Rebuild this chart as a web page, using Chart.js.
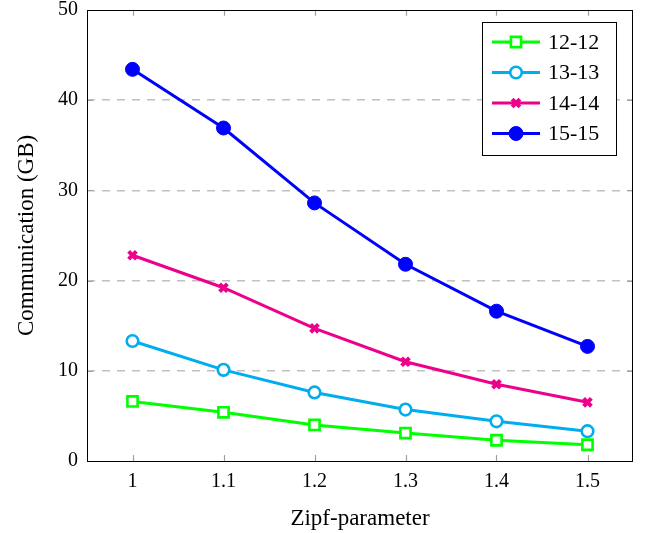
<!DOCTYPE html>
<html>
<head>
<meta charset="utf-8">
<script src="https://cdn.jsdelivr.net/npm/chart.js@4"></script>
<style>
  html, body { margin: 0; padding: 0; background: #fff; }
  #wrap { width: 647px; height: 533px; }
</style>
</head>
<body>
<div id="wrap"><canvas id="chart" width="647" height="533"></canvas></div>
<script>
// Data
const zipf = [1, 1.1, 1.2, 1.3, 1.4, 1.5];
const seriesNames = ['12-12', '13-13', '14-14', '15-15'];
const comm12 = [6.6, 5.4, 4.0, 3.1, 2.3, 1.8];
const comm13 = [13.3, 10.1, 7.6, 5.7, 4.4, 3.3];
const comm14 = [22.8, 19.2, 14.7, 11.0, 8.5, 6.5];
const comm15 = [43.4, 36.9, 28.6, 21.8, 16.6, 12.7];
const yTicks = [0, 10, 20, 30, 40, 50];

const FONT = "'Liberation Serif', 'DejaVu Serif', serif";

const styles = [
  { color: '#00ff00', point: 'rect', radius: 7.2, fill: '#ffffff', bw: 2.6 },
  { color: '#00aeef', point: 'circle', radius: 5.8, fill: '#ffffff', bw: 2.6 },
  { color: '#ec008c', point: 'crossRot', radius: 5.5, fill: '#ec008c', bw: 4 },
  { color: '#0000ff', point: 'circle', radius: 7, fill: '#0000ff', bw: 1 }
];

const values = [comm12, comm13, comm14, comm15];

const datasets = values.map((vals, i) => ({
  label: seriesNames[i],
  data: zipf.map((x, j) => ({ x: x, y: vals[j] })),
  borderColor: styles[i].color,
  backgroundColor: styles[i].fill,
  pointBorderColor: styles[i].color,
  pointBackgroundColor: styles[i].fill,
  pointStyle: styles[i].point,
  pointRadius: styles[i].radius,
  pointBorderWidth: styles[i].bw,
  borderWidth: 3,
  tension: 0
}));

// inward ticks on all four sides, and a boxed legend inside the plot
const framePlugin = {
  id: 'frame',
  afterDatasetsDraw(chart) {
    const { ctx, chartArea: a, scales } = chart;
    ctx.save();
    ctx.strokeStyle = '#a0a0a0';
    ctx.lineWidth = 1.2;
    ctx.beginPath();
    zipf.forEach(v => {
      const px = Math.round(scales.x.getPixelForValue(v)) + 0.5;
      ctx.moveTo(px, a.bottom); ctx.lineTo(px, a.bottom - 6);
      ctx.moveTo(px, a.top); ctx.lineTo(px, a.top + 6);
    });
    yTicks.forEach(v => {
      const py = Math.round(scales.y.getPixelForValue(v)) + 0.5;
      ctx.moveTo(a.left, py); ctx.lineTo(a.left + 6, py);
      ctx.moveTo(a.right, py); ctx.lineTo(a.right - 6, py);
    });
    ctx.stroke();

    // plot frame
    ctx.strokeStyle = '#000';
    ctx.lineWidth = 1;
    ctx.strokeRect(Math.round(a.left) + 0.5, Math.round(a.top) + 0.5,
      Math.round(a.right - a.left) - 1, Math.round(a.bottom - a.top));

    // legend
    const bx = 482.5, by = 22.5, bw = 134, bh = 133;
    ctx.fillStyle = '#fff';
    ctx.fillRect(bx, by, bw, bh);
    ctx.strokeStyle = '#000';
    ctx.strokeRect(bx, by, bw, bh);
    ctx.font = '22px ' + FONT;
    ctx.textBaseline = 'middle';
    chart.data.datasets.forEach((ds, i) => {
      const yy = 42 + i * 30.5;
      ctx.strokeStyle = ds.borderColor;
      ctx.lineWidth = ds.borderWidth;
      ctx.beginPath();
      ctx.moveTo(492, yy); ctx.lineTo(540, yy);
      ctx.stroke();
      ctx.fillStyle = ds.pointBackgroundColor;
      ctx.strokeStyle = ds.pointBorderColor;
      ctx.lineWidth = ds.pointBorderWidth;
      Chart.helpers.drawPoint(ctx, { pointStyle: ds.pointStyle, radius: ds.pointRadius, borderWidth: ds.pointBorderWidth }, 516, yy);
      ctx.fillStyle = '#000';
      ctx.fillText(ds.label, 548, yy + 1);
    });
    ctx.restore();
  }
};

new Chart(document.getElementById('chart'), {
  type: 'line',
  data: { datasets },
  options: {
    responsive: false,
    animation: false,
    devicePixelRatio: 1,
    layout: { padding: { top: 7, right: 14, left: 0, bottom: 0 } },
    plugins: {
      legend: { display: false },
      tooltip: { enabled: false }
    },
    scales: {
      x: {
        type: 'linear',
        min: 0.95,
        max: 1.55,
        afterBuildTicks(scale) { scale.ticks = zipf.map(v => ({ value: v })); },
        afterFit(scale) { scale.height = 72; scale.paddingLeft = 0; scale.paddingRight = 0; },
        grid: { display: false, drawTicks: false },
        border: { display: false },
        ticks: {
          color: '#000',
          font: { family: FONT, size: 20 },
          padding: 9,
          maxRotation: 0,
          callback: v => String(v)
        },
        title: {
          display: true,
          text: 'Zipf-parameter',
          color: '#000',
          font: { family: FONT, size: 23 },
          padding: { top: 4, bottom: 0 }
        }
      },
      y: {
        min: 0,
        max: 50,
        afterBuildTicks(scale) { scale.ticks = yTicks.map(v => ({ value: v })); },
        afterFit(scale) { scale.width = 87; scale.paddingTop = 0; scale.paddingBottom = 0; },
        grid: {
          drawTicks: false,
          color: ctx => (ctx.tick && (ctx.tick.value === 0 || ctx.tick.value === 50)) ? 'rgba(0,0,0,0)' : '#c0c0c0',
          lineWidth: 1.5
        },
        border: { display: false, dash: [8, 7] },
        ticks: {
          color: '#000',
          font: { family: FONT, size: 20 },
          padding: 9
        },
        title: {
          display: true,
          text: 'Communication (GB)',
          color: '#000',
          font: { family: FONT, size: 23 },
          padding: { top: 13, bottom: 0 }
        }
      }
    }
  },
  plugins: [framePlugin]
});
</script>
</body>
</html>
